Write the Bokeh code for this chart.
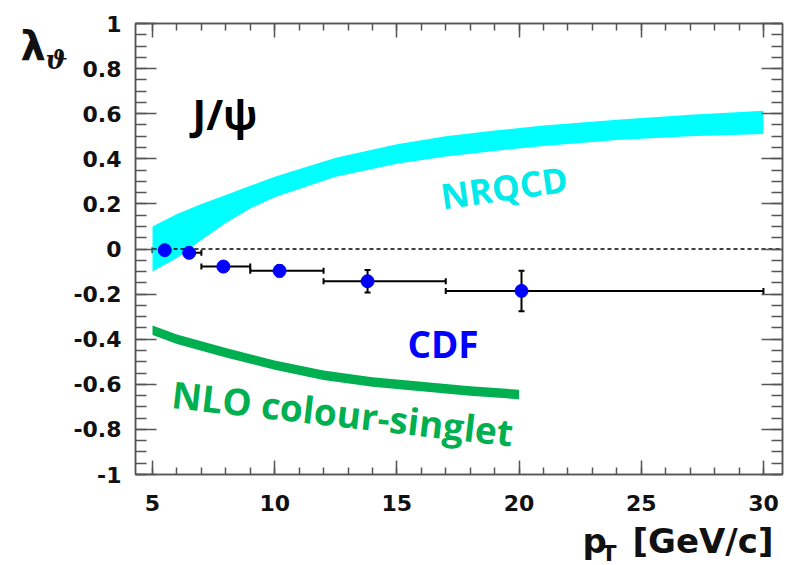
import numpy as np
from bokeh.plotting import figure
from bokeh.layouts import row, column
from bokeh.core.properties import value
from bokeh.models import (Range1d, LinearAxis, FixedTicker, CustomJSTickFormatter,
                          ColumnDataSource, Whisker, TeeHead, Label)
from bokeh.embed import file_html
from bokeh.resources import INLINE

# ---- data -------------------------------------------------------------
# CDF J/psi polarisation measurement
cdf_pt = [5.5, 6.5, 7.9, 10.2, 13.8, 20.1]
cdf_pt_lo = [5.0, 6.0, 7.0, 9.0, 12.0, 17.0]
cdf_pt_hi = [6.0, 7.0, 9.0, 12.0, 17.0, 30.0]
cdf_lambda = [-0.005, -0.017, -0.078, -0.097, -0.143, -0.186]
cdf_err = [0.02, 0.02, 0.015, 0.025, 0.05, 0.09]

# NRQCD prediction band
nrqcd_pt = [5, 6, 7, 8, 9, 10, 12.5, 15, 17, 19, 21, 24, 27, 30]
nrqcd_hi = [0.10, 0.155, 0.20, 0.24, 0.28, 0.32, 0.405, 0.465, 0.50, 0.525, 0.548, 0.573, 0.595, 0.613]
nrqcd_lo = [-0.10, -0.04, 0.04, 0.115, 0.18, 0.23, 0.32, 0.378, 0.41, 0.435, 0.457, 0.483, 0.50, 0.51]

# NLO colour-singlet prediction (central curve and half-width)
nlo_pt = [5, 6, 7, 8, 10, 12, 14, 16, 18, 20]
nlo_mid = [-0.36, -0.40, -0.43, -0.46, -0.515, -0.56, -0.59, -0.61, -0.63, -0.645]
nlo_halfwidth = 0.021

# axis ticks
x_ticks = [5, 10, 15, 20, 25, 30]
y_ticks = [-1, -0.8, -0.6, -0.4, -0.2, 0, 0.2, 0.4, 0.6, 0.8, 1]
y_tick_labels = ["-1", "-0.8", "-0.6", "-0.4", "-0.2", "0", "0.2", "0.4", "0.6", "0.8", "1"]

# ---- styling constants ----------------------------------------------------
AXIS_FONT = "DejaVu Sans"
ANNOT_FONT = "Open Sans"
FRAME_COLOR = "#555555"
TEXT_DARK = "#111111"

TOTAL_W, TOTAL_H = 789, 565
LEFT_STRIP_W = 70      # strip holding the y-axis title
BOTTOM_STRIP_H = 45    # strip holding the x-axis title
MAIN_W = TOTAL_W - LEFT_STRIP_W
MAIN_H = TOTAL_H - BOTTOM_STRIP_H

# ---- main plot --------------------------------------------------------------
p = figure(width=MAIN_W, height=MAIN_H, output_backend="svg", toolbar_location=None,
           title=None, x_range=Range1d(4.304, 30.78), y_range=Range1d(-1, 1),
           min_border_left=65, min_border_right=7, min_border_top=23,
           min_border_bottom=46, x_axis_location=None, y_axis_location=None)
p.grid.visible = False
p.outline_line_color = FRAME_COLOR
p.outline_line_width = 1.5
p.background_fill_color = "white"
p.border_fill_color = "white"

y_minor = [round(v, 2) for v in np.arange(-1, 1.001, 0.05)]
x_minor = list(range(5, 31))


def style_ticks(ax, major_len, minor_len):
    ax.major_tick_in = major_len
    ax.major_tick_out = 0
    ax.minor_tick_in = minor_len
    ax.minor_tick_out = 0
    for attr in ("axis_line", "major_tick_line", "minor_tick_line"):
        setattr(ax, attr + "_color", FRAME_COLOR)
        setattr(ax, attr + "_width", 1.5)


def label_style(ax, standoff):
    ax.major_label_text_font = AXIS_FONT
    ax.major_label_text_font_style = "bold"
    ax.major_label_text_font_size = "22px"
    ax.major_label_text_color = TEXT_DARK
    ax.major_label_standoff = standoff


def hide_labels(ax):
    ax.formatter = CustomJSTickFormatter(code="return ''")
    ax.major_label_standoff = 0


xb = LinearAxis(ticker=FixedTicker(ticks=x_ticks, minor_ticks=x_minor))
style_ticks(xb, 14, 7)
label_style(xb, 20)
xt = LinearAxis(ticker=FixedTicker(ticks=x_ticks, minor_ticks=x_minor))
style_ticks(xt, 14, 7)
hide_labels(xt)

yl = LinearAxis(ticker=FixedTicker(ticks=y_ticks, minor_ticks=y_minor))
style_ticks(yl, 21, 11)
yl.major_label_overrides = dict(zip(y_ticks, y_tick_labels))
label_style(yl, 14)
yr = LinearAxis(ticker=FixedTicker(ticks=y_ticks, minor_ticks=y_minor))
style_ticks(yr, 21, 11)
hide_labels(yr)

p.add_layout(xb, "below")
p.add_layout(xt, "above")
p.add_layout(yl, "left")
p.add_layout(yr, "right")

# NRQCD band
p.varea(x=nrqcd_pt, y1=nrqcd_lo, y2=nrqcd_hi, fill_color="#00ffff", fill_alpha=1.0)

# NLO colour-singlet band
nlo_lo = [m - nlo_halfwidth for m in nlo_mid]
nlo_hi = [m + nlo_halfwidth for m in nlo_mid]
p.varea(x=nlo_pt, y1=nlo_lo, y2=nlo_hi, fill_color="#00b050", fill_alpha=1.0)

# zero reference line
p.line(x=[5, 30.78], y=[0, 0], line_color="black", line_width=1.5, line_dash="4 3")

# CDF points with error bars
src = ColumnDataSource(dict(
    x=cdf_pt, y=cdf_lambda, xlo=cdf_pt_lo, xhi=cdf_pt_hi,
    ylo=[v - e for v, e in zip(cdf_lambda, cdf_err)],
    yhi=[v + e for v, e in zip(cdf_lambda, cdf_err)],
))
for dim, base, lo, hi in (("width", "y", "xlo", "xhi"), ("height", "x", "ylo", "yhi")):
    w = Whisker(source=src, base=base, lower=lo, upper=hi, dimension=dim,
                line_color="black", line_width=2,
                lower_head=TeeHead(size=6, line_color="black", line_width=2),
                upper_head=TeeHead(size=6, line_color="black", line_width=2))
    p.add_layout(w)
p.scatter(x="x", y="y", source=src, size=13, fill_color="#0000ff", line_color="#0000ff")


# in-plot annotations
def add_label(text, x, y, size, color, angle=0.0):
    p.add_layout(Label(x=x, y=y, text=text, text_font=ANNOT_FONT,
                       text_font_style="bold", text_font_size=size,
                       text_color=color, text_baseline="alphabetic",
                       text_align="left", angle=angle))


add_label("J/\u03c8", 6.64, 0.60, "41px", "black")
add_label("NRQCD", 16.8, 0.235, "35px", "#00eaea", angle=np.radians(8))
add_label("CDF", 15.43, -0.417, "37px", "#0000ff")
add_label("NLO colour-singlet", 5.8, -0.64, "37px", "#00b050", angle=np.radians(-6.5))


# ---- axis-title strips ----------------------------------------------------
# each strip is a bare figure whose data units are its own pixels (y up)
def text_strip(width, height):
    f = figure(width=width, height=height, output_backend="svg", toolbar_location=None,
               title=None, x_range=Range1d(0, width), y_range=Range1d(0, height),
               min_border=0, x_axis_location=None, y_axis_location=None)
    f.grid.visible = False
    f.outline_line_color = None
    f.background_fill_color = "white"
    f.border_fill_color = "white"
    return f


def strip_text(f, x, y, text, size, font=AXIS_FONT, style="bold"):
    f.text(x=[x], y=[y], text=[text], text_font=value(font), text_font_style=style,
           text_font_size=size, text_color=TEXT_DARK, text_baseline="middle",
           text_align="left")


# y-axis title: lambda with subscript theta
left_strip = text_strip(LEFT_STRIP_W, MAIN_H)
strip_text(left_strip, 20, MAIN_H - 26, "\u03bb", "40px")
strip_text(left_strip, 45, MAIN_H - 42, "\u03d1", "26px", font="DejaVu Serif",
           style="bold italic")

# x-axis title: p_T [GeV/c]
bottom_strip = text_strip(TOTAL_W, BOTTOM_STRIP_H)
strip_text(bottom_strip, 582, 25, "p", "34px")
strip_text(bottom_strip, 601, 12, "T", "22px")
strip_text(bottom_strip, 632, 25, "[GeV/c]", "34px")

layout = column(row(left_strip, p, spacing=0), bottom_strip, spacing=0)
open("out.html", "w").write(file_html(layout, INLINE))
